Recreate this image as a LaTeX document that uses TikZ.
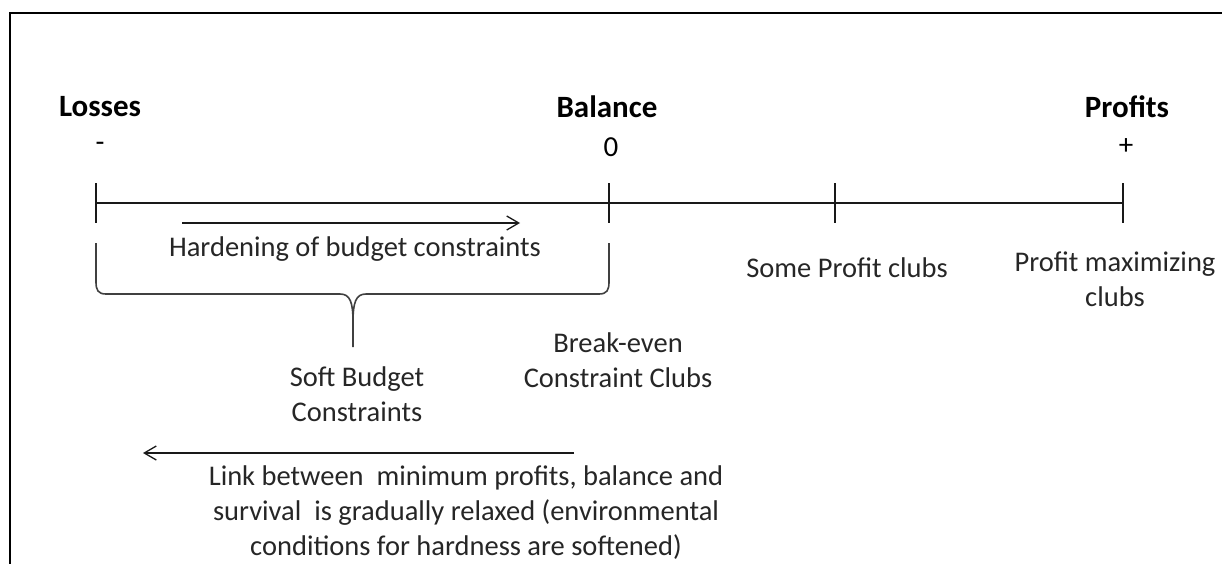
\documentclass[tikz,border=0pt]{standalone}
\usepackage{fontspec}
\setmainfont{Carlito}
\usetikzlibrary{arrows.meta}
\begin{document}
\begin{tikzpicture}[x=1pt,y=-1pt,
  frame/.style={line width=2.7pt,black},
  axisline/.style={line width=1.5pt,black!90},
  tickline/.style={line width=1.5pt,black!90},
  bracel/.style={line width=1.6pt,black!75,line join=round},
  arr/.style={line width=1.3pt,black!90,-{Straight Barb[length=12pt,width=14pt,line width=1.3pt]}},
  head/.style={font=\bfseries\fontsize{31}{36}\selectfont,inner sep=0pt,text=black},
  sgn/.style={font=\fontsize{29}{34}\selectfont,inner sep=0pt,text=black},
  lbl/.style={font=\fontsize{28.5}{35}\selectfont,inner sep=0pt,align=center,text=black!85}]
\useasboundingbox (0,0) rectangle (1222,564);
\draw[frame] (10,564) -- (10,13) -- (1222,13);

% headings
\node[head] (losses) at (100,107) {Losses};
\node[head] (balance) at (607,107) {Balance};
\node[head] (profits) at (1127,107) {Profits};
\node[sgn] (minus) at (100,147) {-};
\node[sgn] (zero) at (611,147) {0};
\node[sgn] (plus) at (1126,147) {+};

% axis
\coordinate (t1) at (96,203);
\coordinate (t2) at (609,203);
\coordinate (t3) at (835,203);
\coordinate (t4) at (1123,203);
\draw[axisline] (t1) -- (t4);
\foreach \t in {t1,t2,t3,t4}
  \draw[tickline] ([yshift=20pt]\t) -- ([yshift=-20pt]\t);

% hardening arrow
\coordinate (h1) at (182,223);
\coordinate (h2) at (520,223);
\draw[arr] (h1) -- (h2);
\node[lbl] (hard) at (355,249) {Hardening of budget constraints};

% brace
\coordinate (bl) at (96,243);
\coordinate (br) at (609,243);
\coordinate (tip) at (353,347);
\draw[bracel] (bl) -- (96,282) .. controls (96,290) and (98,294) .. (106,294)
  -- (340,294) .. controls (350,294) and (353,302) .. (353,322) -- (tip);
\draw[bracel] (br) -- (609,282) .. controls (609,290) and (607,294) .. (599,294)
  -- (366,294) .. controls (356,294) and (353,302) .. (353,322);

\node[lbl] (soft) at (357,394) {Soft Budget\\Constraints};
\node[lbl] (breakeven) at (618,360) {Break-even\\Constraint Clubs};
\node[lbl] (some) at (847,268) {Some Profit clubs};
\node[lbl] (maxi) at (1115,279) {Profit maximizing\\clubs};

% relaxation arrow
\coordinate (r1) at (574,453);
\coordinate (r2) at (143,453);
\draw[arr] (r1) -- (r2);
\node[lbl] (link) at (466,513) {Link between\ \ minimum profits, balance and\\survival\ \ is gradually relaxed (environmental\\conditions for hardness are softened)};
\end{tikzpicture}
\end{document}
